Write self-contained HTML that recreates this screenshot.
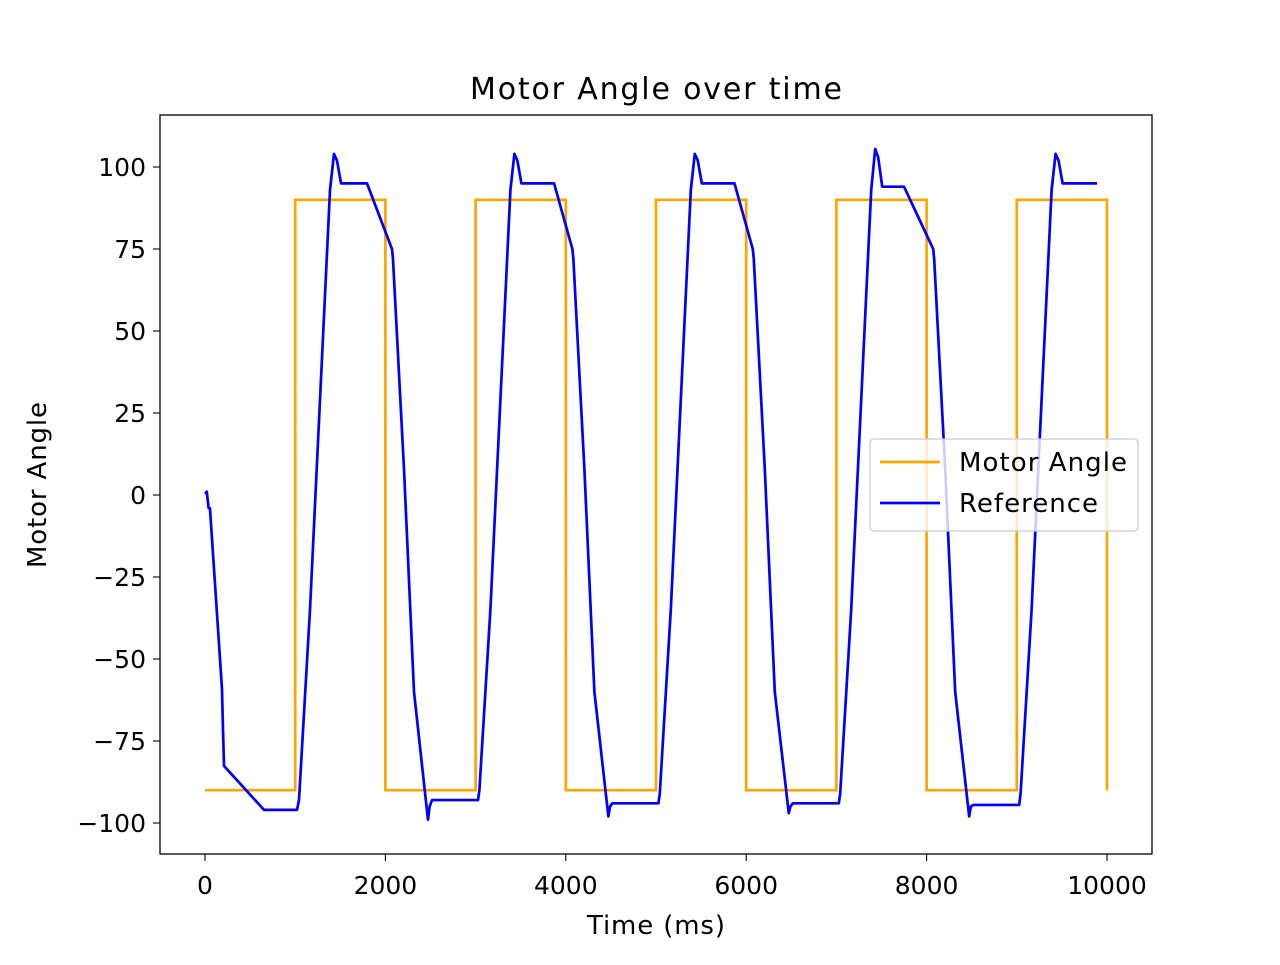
<!DOCTYPE html>
<html><head><meta charset="utf-8"><style>
body{margin:0;background:#fff}
svg text{font-family:"DejaVu Sans","Liberation Sans",sans-serif;fill:#000}
</style></head><body>
<svg id="chart" width="1280" height="960" xmlns="http://www.w3.org/2000/svg">
<rect width="1280" height="960" fill="#fff"/>
<text x="656" y="99" font-size="30" text-anchor="middle" textLength="372">Motor Angle over time</text>
<g id="plot"></g>
<rect x="160" y="115" width="992" height="739" fill="none" stroke="#000" stroke-width="1.3"/>
<g id="axes"></g>
<text x="656" y="934" font-size="26" text-anchor="middle" textLength="138">Time (ms)</text>
<text transform="translate(46,485) rotate(-90)" font-size="26" text-anchor="middle" textLength="166">Motor Angle</text>
<g>
<rect x="870" y="439" width="268" height="92" rx="4" fill="#fff" fill-opacity="0.8" stroke="#ccc" stroke-width="1.3"/>
<line x1="880" y1="462" x2="940" y2="462" stroke="orange" stroke-width="2.7"/>
<text x="959" y="471" font-size="26" textLength="168">Motor Angle</text>
<line x1="880" y1="503" x2="940" y2="503" stroke="blue" stroke-width="2.7"/>
<text x="959" y="512" font-size="26" textLength="139">Reference</text>
</g>
</svg>
<script>
const xTicks=[0,2000,4000,6000,8000,10000];
const yTicks=[100,75,50,25,0,-25,-50,-75,-100];
const stepTimes=[0,1000,2000,3000,4000,5000,6000,7000,8000,9000,10000];
const stepValues=[-90,90,-90,90,-90,90,-90,90,-90,90,-90];
const refTimes=[0,20,40,55,188,200,211,654,1020,1042,1164,1386,1430,1463,1508,1796,2073,2084,2206,2317,2472,2490,2517,3027,3042,3164,3386,3430,3463,3508,3870,4073,4084,4206,4317,4472,4490,4517,5027,5042,5164,5386,5430,5463,5508,5870,6073,6084,6206,6317,6472,6490,6517,7027,7042,7164,7386,7430,7463,7508,7750,8073,8084,8206,8317,8472,8490,8517,9027,9042,9164,9386,9430,9463,9508,9890];
const refValues=[0.3,1,-4,-4,-59,-72,-82.6,-96,-96,-93,-35,93,104,102,95,95,75,72,8,-60,-99,-95,-93,-93,-90,-35,93,104,102,95,95,75,72,8,-60,-98,-95,-94,-94,-91,-35,93,104,102,95,95,75,72,8,-60,-97,-95,-94,-94,-91,-35,93,105.5,103,94,94,75,72,8,-60,-98,-95,-94.5,-94.5,-91,-35,93,104,102,95,95];
const X=t=>205+t*0.0902, Y=v=>495-v*3.28;
const NS='http://www.w3.org/2000/svg';
const plot=document.getElementById('plot'), axes=document.getElementById('axes');
function mk(tag,attrs,parent){const e=document.createElementNS(NS,tag);for(const k in attrs)e.setAttribute(k,attrs[k]);parent.appendChild(e);return e;}
let d='M'+X(stepTimes[0])+','+Y(stepValues[0]);
for(let i=1;i<stepTimes.length;i++){d+=' L'+X(stepTimes[i])+','+Y(stepValues[i-1])+' L'+X(stepTimes[i])+','+Y(stepValues[i]);}
const op=mk('path',{d:d,fill:'none',stroke:'orange','stroke-width':2.7},plot);


let d2=refTimes.map((t,i)=>(i?'L':'M')+X(t)+','+Y(refValues[i])).join(' ');
const bp=mk('path',{d:d2,fill:'none',stroke:'blue','stroke-width':2.7,'stroke-linejoin':'round'},plot);


xTicks.forEach(t=>{
  const l=mk('line',{x1:X(t),x2:X(t),y1:854,y2:861,stroke:'#000','stroke-width':1.1},axes);
  
  
  const tx=mk('text',{x:X(t),y:894,'font-size':25,'text-anchor':'middle'},axes);
  tx.textContent=t;
  
  
});
yTicks.forEach(v=>{
  const l=mk('line',{x1:153,x2:160,y1:Y(v),y2:Y(v),stroke:'#000','stroke-width':1.1},axes);
  
  
  const tx=mk('text',{x:146,y:Y(v)+9,'font-size':25,'text-anchor':'end'},axes);
  tx.textContent=v<0?'\u2212'+(-v):String(v);
  
  
});
</script>
</body></html>
